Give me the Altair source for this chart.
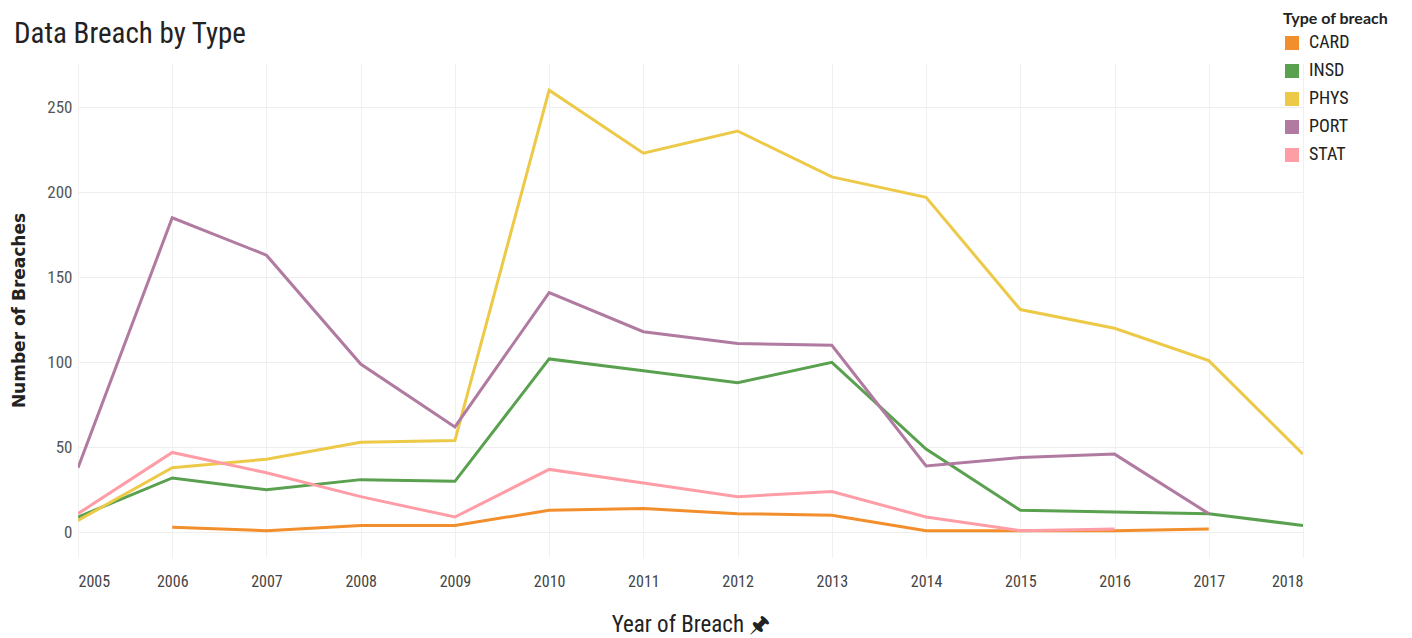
import altair as alt
import pandas as pd

years = list(range(2005, 2019))
card = [None, 3, 1, 4, 4, 13, 14, 11, 10, 1, 1, 1, 2, None]
insd = [9, 32, 25, 31, 30, 102, 95, 88, 100, 49, 13, 12, 11, 4]
phys = [7, 38, 43, 53, 54, 260, 223, 236, 209, 197, 131, 120, 101, 46]
port = [38, 185, 163, 99, 62, 141, 118, 111, 110, 39, 44, 46, 11, None]
stat = [11, 47, 35, 21, 9, 37, 29, 21, 24, 9, 1, 2, None, None]

series = {"CARD": card, "INSD": insd, "PHYS": phys, "PORT": port, "STAT": stat}
types = list(series.keys())
colors = ["#F28E2B", "#59A14F", "#EDC948", "#B07AA1", "#FF9DA7"]

rows = []
for t, vals in series.items():
    for y, v in zip(years, vals):
        if v is not None:
            rows.append({"Year": y, "Type": t, "Count": v})
df = pd.DataFrame(rows)

FONT = "Liberation Sans Narrow, Roboto Condensed, Lato, sans-serif"

x_enc = alt.X("Year:Q",
              scale=alt.Scale(domain=[2005, 2018], nice=False, zero=False),
              axis=alt.Axis(values=years, format="d", labelFlush=True,
                            title="Year of Breach 🖈", titleFont=FONT, titleFontSize=23,
                            titleFontWeight="normal", titleColor="#222",
                            titlePadding=24, labelFont=FONT, labelFontSize=16,
                            labelColor="#444", labelPadding=16,
                            ticks=False, domain=False, gridColor="#f0f0f0"))
y_enc = alt.Y("Count:Q",
              scale=alt.Scale(domain=[-14.5, 276], nice=False, zero=False),
              axis=alt.Axis(values=[0, 50, 100, 150, 200, 250],
                            title="Number of Breaches", titleFont="DejaVu Sans",
                            titleFontSize=17, titleFontWeight="bold", titleColor="#222",
                            titleX=-59, titleY=247, titleAngle=-90, titleBaseline="middle",
                            labelFont=FONT, labelFontSize=17, labelColor="#555",
                            labelPadding=6, ticks=False, domain=False,
                            gridColor="#eeeeee"))
c_enc = alt.Color("Type:N",
                  scale=alt.Scale(domain=types, range=colors),
                  legend=alt.Legend(title="Type of breach", orient="none",
                                    legendX=1205, legendY=-52,
                                    symbolType="square", symbolSize=196,
                                    symbolStrokeWidth=0, symbolOpacity=1,
                                    titleFont="Lato", titleFontSize=16,
                                    titleFontWeight="bold", titleColor="#222",
                                    titleLimit=300, labelLimit=200,
                                    labelFont=FONT, labelFontSize=18,
                                    labelColor="#222", rowPadding=10,
                                    labelOffset=8, titlePadding=7))

base = alt.Chart(df)
legend_layer = base.mark_square(size=0, filled=True).encode(x=x_enc, y=y_enc, color=c_enc)
lines = base.mark_line(strokeWidth=3, clip=True).encode(x=x_enc, y=y_enc, color=c_enc)

chart = alt.layer(legend_layer, lines).properties(
    width=1225, height=494,
    title=alt.TitleParams("Data Breach by Type", anchor="start", frame="group",
                          dx=-64, dy=55, offset=17, font=FONT, fontSize=29,
                          fontWeight="normal", color="#222"),
    autosize=alt.AutoSizeParams(type="none"),
    padding={"left": 70, "top": 55, "right": 100, "bottom": 79},
).configure_view(stroke=None)

chart.save("out.html", embed_options={"renderer": "svg", "actions": False})
